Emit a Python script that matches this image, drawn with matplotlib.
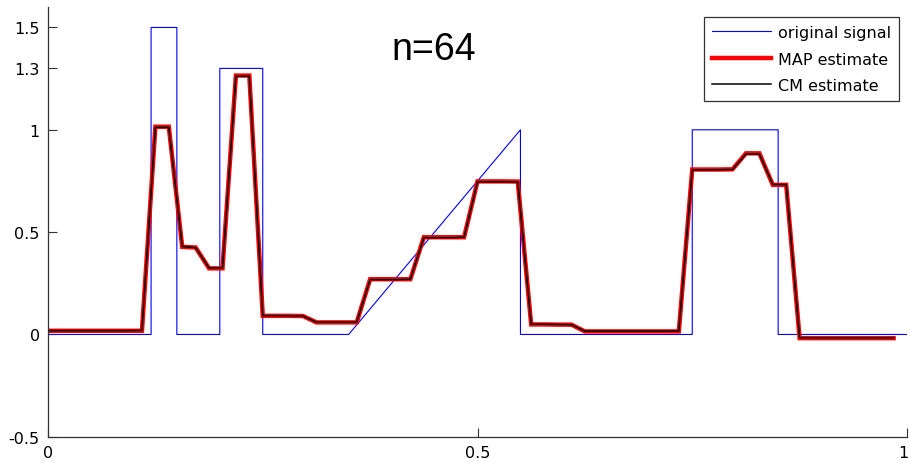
import numpy as np
import matplotlib
matplotlib.use("Agg")
import matplotlib.pyplot as plt
from matplotlib.transforms import ScaledTranslation

plt.rcParams['font.family'] = ['DejaVu Sans']

# Piecewise signal (breakpoints of the true signal)
signal_x = [0.0, 0.12, 0.12, 0.15, 0.15, 0.20, 0.20, 0.25, 0.25, 0.35, 0.55, 0.55,
            0.75, 0.75, 0.85, 0.85, 1.0]
signal_y = [0.0, 0.0, 1.5, 1.5, 0.0, 0.0, 1.3, 1.3, 0.0, 0.0, 1.0, 0.0,
            0.0, 1.0, 1.0, 0.0, 0.0]

# Reconstructions on the n = 64 grid
n = 64
map_estimate = [0.018, 0.018, 0.018, 0.018, 0.018, 0.018, 0.018, 0.018,
                1.015, 1.015, 0.428, 0.425, 0.323, 0.323, 1.265, 1.265,
                0.091, 0.091, 0.091, 0.090, 0.059, 0.059, 0.059, 0.059,
                0.270, 0.270, 0.270, 0.270, 0.475, 0.475, 0.475, 0.475,
                0.748, 0.748, 0.748, 0.747, 0.049, 0.049, 0.048, 0.048,
                0.015, 0.015, 0.015, 0.015, 0.015, 0.015, 0.015, 0.015,
                0.806, 0.806, 0.806, 0.807, 0.885, 0.885, 0.731, 0.731,
                -0.018, -0.018, -0.018, -0.018, -0.018, -0.018, -0.018, -0.018]
cm_estimate = [0.019, 0.019, 0.019, 0.019, 0.019, 0.019, 0.019, 0.020,
               1.012, 1.012, 0.430, 0.424, 0.325, 0.325, 1.262, 1.262,
               0.092, 0.092, 0.091, 0.090, 0.060, 0.060, 0.060, 0.060,
               0.268, 0.268, 0.268, 0.270, 0.473, 0.473, 0.473, 0.475,
               0.746, 0.746, 0.746, 0.745, 0.050, 0.050, 0.049, 0.048,
               0.016, 0.016, 0.016, 0.016, 0.016, 0.016, 0.016, 0.017,
               0.804, 0.804, 0.805, 0.806, 0.882, 0.882, 0.733, 0.733,
               -0.016, -0.017, -0.017, -0.017, -0.017, -0.017, -0.017, -0.017]
grid = np.arange(n) / n

x_ticks = [0, 0.5, 1]
x_tick_labels = ['0', '0.5', '1']
y_ticks = [-0.5, 0, 0.5, 1, 1.3, 1.5]
y_tick_labels = ['-0.5', '0', '0.5', '1', '1.3', '1.5']

fig = plt.figure(figsize=(9.10, 4.64), dpi=100)
ax = fig.add_axes([48 / 910, 1 - 437.8 / 464, (907 - 48) / 910, (437.8 - 8) / 464])

ax.plot(signal_x, signal_y, color=(0, 0, 1), lw=0.8, label='original signal')
ax.plot(grid, map_estimate, color=(1, 0, 0), lw=3.2, solid_joinstyle='miter',
        label='MAP estimate')
ax.plot(grid, cm_estimate, color='black', lw=1.1, label='CM estimate')

ax.set_xlim(0, 1)
ax.set_ylim(-0.5, 1.6)
ax.set_xticks(x_ticks, x_tick_labels)
ax.set_yticks(y_ticks, y_tick_labels)
ax.tick_params(direction='in', length=6.5, width=0.8, labelsize=11.5, pad=6,
               color='#333333')
for side in ('top', 'right'):
    ax.spines[side].set_visible(False)
for side in ('left', 'bottom'):
    ax.spines[side].set_linewidth(0.9)
    ax.spines[side].set_color('#333333')

# keep the last x tick label inside the figure edge
last_label = ax.get_xticklabels()[-1]
last_label.set_transform(last_label.get_transform()
                         + ScaledTranslation(-3.5 / 100, 0, fig.dpi_scale_trans))

ax.text(0.449, 1.345, 'n=64', fontsize=27, ha='center', va='baseline',
        family='Liberation Sans')

leg = ax.legend(loc='upper right', bbox_to_anchor=(0.9907, 0.9767), borderaxespad=0,
                fontsize=11.5, handlelength=3.7, handletextpad=0.45, labelspacing=0.72,
                fancybox=False, framealpha=1, edgecolor='#333333', borderpad=0.5)
leg.get_frame().set_linewidth(0.9)

fig.savefig('out.png', dpi=100)
